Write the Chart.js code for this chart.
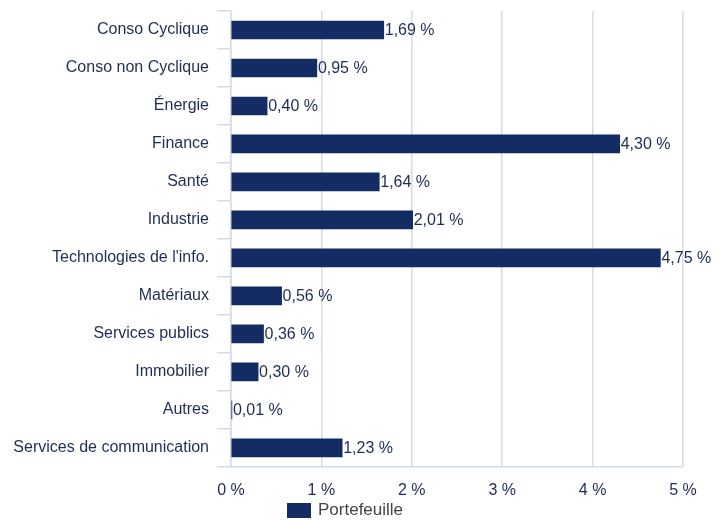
<!DOCTYPE html>
<html lang="fr">
<head>
<meta charset="utf-8">
<title>Répartition sectorielle</title>
<script src="https://cdn.jsdelivr.net/npm/chart.js@4/dist/chart.umd.min.js"></script>
<style>
  body { margin: 0; background: #fff; }
  #cont { position: relative; width: 727px; height: 520px; }
  #leyenda { position: absolute; left: 287px; top: 499px; display: flex; align-items: center;
             font: 17px "Liberation Sans", Arial, sans-serif; color: #444; line-height: 22px; }
  #leyenda span.caja { display: inline-block; width: 24px; height: 15px; background: #132d64; margin-right: 7px; }
</style>
</head>
<body>
<div id="cont">
  <canvas id="grafico" width="727" height="520"></canvas>
  <div id="leyenda"><span class="caja"></span><span id="leyendaTexto"></span></div>
</div>
<script>
// Datos del gráfico
const secteurs = ['Conso Cyclique', 'Conso non Cyclique', 'Énergie', 'Finance', 'Santé', 'Industrie',
  "Technologies de l'info.", 'Matériaux', 'Services publics', 'Immobilier', 'Autres', 'Services de communication'];
const portefeuille = [1.69, 0.95, 0.40, 4.30, 1.64, 2.01, 4.75, 0.56, 0.36, 0.30, 0.01, 1.23];
const ticksX = [0, 1, 2, 3, 4, 5];
const nomSerie = 'Portefeuille';

const colorBarra = '#132d64';
const colorTexto = '#1f2d55';
const colorRejilla = '#d3dce8';
const fuente = { family: '"Liberation Sans", Arial, sans-serif', size: 16 };

// Formato francés: coma decimal
function fmt(v) {
  return v.toFixed(2).replace('.', ',') + ' %';
}

// Plugin sencillo para las etiquetas al final de cada barra
const etiquetas = {
  id: 'etiquetas',
  afterDatasetsDraw(chart) {
    const ctx = chart.ctx;
    const meta = chart.getDatasetMeta(0);
    ctx.save();
    ctx.font = fuente.size + 'px ' + fuente.family;
    ctx.fillStyle = colorTexto;
    ctx.textAlign = 'left';
    ctx.textBaseline = 'middle';
    meta.data.forEach(function(bar, i) {
      ctx.fillText(fmt(chart.data.datasets[0].data[i]), bar.x + 1, bar.y + 1);
    });
    ctx.restore();
  }
};

document.getElementById('leyendaTexto').textContent = nomSerie;

new Chart(document.getElementById('grafico'), {
  type: 'bar',
  data: {
    labels: secteurs,
    datasets: [{
      label: nomSerie,
      data: portefeuille,
      backgroundColor: colorBarra,
      barThickness: 18
    }]
  },
  plugins: [etiquetas],
  options: {
    indexAxis: 'y',
    responsive: false,
    animation: false,
    layout: { padding: { left: 13, right: 44, top: 11, bottom: 6 } },
    plugins: { legend: { display: false }, tooltip: { enabled: false } },
    scales: {
      x: {
        min: 0,
        max: 5,
        afterBuildTicks(scale) { scale.ticks = ticksX.map(v => ({ value: v })); },
        grid: { color: colorRejilla, lineWidth: 1.5, drawTicks: false },
        border: { color: colorRejilla, width: 1.5 },
        ticks: { color: colorTexto, font: fuente, padding: 14, callback: v => v + ' %' }
      },
      y: {
        // ancho fijo y sin relleno extra arriba/abajo
        afterFit(scale) {
          scale.width = 218;
          scale.paddingTop = 0;
          scale.paddingBottom = 0;
        },
        grid: { color: colorRejilla, lineWidth: 1.5, drawOnChartArea: false, tickLength: 14, offset: true },
        border: { color: colorRejilla, width: 1.5 },
        ticks: { color: colorTexto, font: fuente, padding: 8 }
      }
    }
  }
});
</script>
</body>
</html>
